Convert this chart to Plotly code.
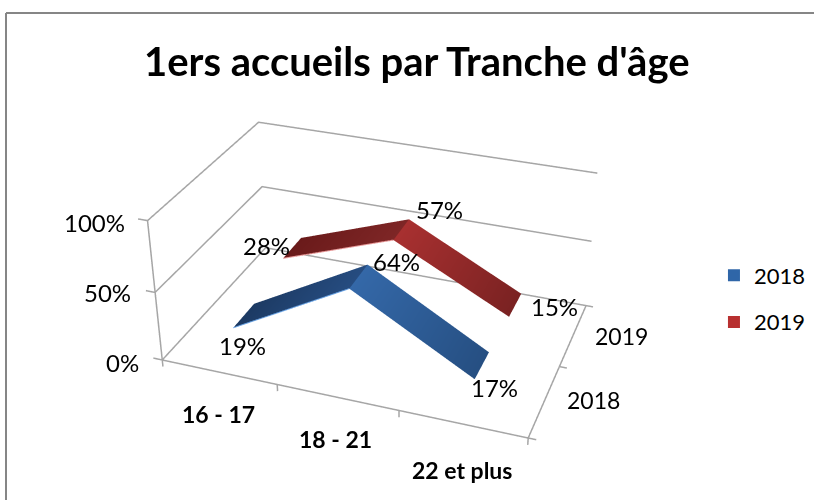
import plotly.graph_objects as go

categories = ["16 - 17", "18 - 21", "22 et plus"]
series_names = ["2018", "2019"]
values_2018 = [0.19, 0.64, 0.17]
values_2019 = [0.28, 0.57, 0.15]
z_ticks = [0, 0.5, 1]
z_labels = ["0%", "50%", "100%"]

RX = [-0.2, 3.2]; RY = [-0.1, 2.1]; RZ = [-0.1, 1.1]

# Plotly's 3D field of view is fixed at 45 degrees, so the gentle perspective of the
# reference needs a tall scene; the page offset below centres it in the window.
H = 1068
OFF = H / 2 - 250
S = (2.2591, 1.4269, 1.0)
EYE = (2.0815, -5.5752, 3.4211)
CTR = (0.1148, 0.0858, 0.0737)
UP = (-0.1652, 0.4589, 0.873)
RIB_A, RIB_B = 0.295, 0.690   # ribbon depth inside each series slot

def py(p):
    return 1 - (p + OFF) / H

fig = go.Figure()

def lines(segs, name, color="#a6a6a6", width=3):
    xs, ys, zs = [], [], []
    for s in segs:
        for p in s:
            xs.append(p[0]); ys.append(p[1]); zs.append(p[2])
        xs.append(None); ys.append(None); zs.append(None)
    fig.add_trace(go.Scatter3d(x=xs, y=ys, z=zs, mode="lines", line=dict(color=color, width=width),
                               showlegend=False, hoverinfo="skip", name=name))

segs = []
for zv in z_ticks:
    segs.append([(0, 0, zv), (0, 2, zv), (3, 2, zv)])
    segs.append([(0, 0, zv), (-0.08, 0, zv)])
segs.append([(0, 0, 0), (0, 0, 1)])
segs.append([(0, 0, 0), (3, 0, 0), (3, 2, 0)])
for i in range(4):
    segs.append([(i, 0, 0), (i, 0, -0.05)])
for i in range(3):
    segs.append([(3, i, 0), (3.06, i, 0)])
lines(segs, "grid")

def ribbon(vals, yc, cols, edge, name):
    xs = [.5, 1.5, 1.5, 2.5]
    zs = [vals[0], vals[1], vals[1], vals[2]]
    X = xs + xs
    Y = [yc + RIB_A] * 4 + [yc + RIB_B] * 4
    Z = zs + zs
    fig.add_trace(go.Mesh3d(x=X, y=Y, z=Z, i=[0, 4, 2, 6], j=[1, 1, 3, 3], k=[4, 5, 6, 7], vertexcolor=cols + cols,
                            lighting=dict(ambient=1, diffuse=0, specular=0, fresnel=0, roughness=1),
                            flatshading=True, showlegend=False, hoverinfo="skip", name=name))
    lines([[(xs[0], yc + RIB_A, zs[0]), (xs[1], yc + RIB_A, zs[1])]], name + " edge", edge, 2)

ribbon(values_2018, 0, ["#1c3a63", "#264c80", "#3468a8", "#264f82"], "#6fa8e8", "2018")
ribbon(values_2019, 1, ["#6a1a1a", "#7e2626", "#a83030", "#7a2222"], "#e89a9a", "2019")
for n, c in zip(series_names, ["#2f66a8", "#b83030"]):
    fig.add_trace(go.Scatter3d(x=[None], y=[None], z=[None], mode="markers",
                               marker=dict(symbol="square", size=12, color=c), name=n, legendgroup=n))

anns = []
def an(x, y, z, text, s, size=24, bold=False):
    anns.append(dict(x=x, y=y, z=z, text=text, showarrow=False, xshift=s[0], yshift=s[1],
                     font=dict(family="Lato", size=size, color="#000000", weight=700 if bold else 400)))

for zv, l, s in zip(z_ticks, z_labels, [(-40, -3), (-48, 0), (-53, -2)]):
    an(0, 0, zv, l, s)
for i, (c, s) in enumerate(zip(categories, [(0, -42), (-2, -42), (-1, -46)])):
    an(i + .5, 0, 0, c, s, 23, True)
for i, (n, s) in enumerate(zip(series_names, [(49, 1), (48, -1)])):
    an(3, i + .5, 0, n, s, 23)
mid = (RIB_A + RIB_B) / 2
for i, (v, s) in enumerate(zip(values_2018, [(-1, -30), (38, 15), (13, -22)])):
    an(i + .5, mid, v, f"{round(v * 100)}%", s)
for i, (v, s) in enumerate(zip(values_2019, [(-26, 2), (38, 20), (39, -1)])):
    an(i + .5, 1 + mid, v, f"{round(v * 100)}%", s)

ax = dict(visible=False, showbackground=False)
fig.update_layout(
    width=814, height=H, margin=dict(l=0, r=0, t=0, b=0, autoexpand=False), paper_bgcolor="white",
    title=dict(text="<b>1ers accueils par Tranche d'âge</b>", x=0.512, y=py(62), xanchor="center", yanchor="middle",
               font=dict(family="Lato", size=40, color="black")),
    scene=dict(domain=dict(x=[0, 1], y=[0, 1]), aspectmode="manual",
               aspectratio=dict(x=S[0], y=S[1], z=S[2]),
               xaxis=dict(range=RX, **ax), yaxis=dict(range=RY, **ax), zaxis=dict(range=RZ, **ax),
               camera=dict(eye=dict(x=EYE[0], y=EYE[1], z=EYE[2]), center=dict(x=CTR[0], y=CTR[1], z=CTR[2]),
                           up=dict(x=UP[0], y=UP[1], z=UP[2]), projection=dict(type="perspective")),
               annotations=anns),
    legend=dict(x=0.8771, y=py(254.5), xanchor="left", yanchor="top", tracegroupgap=15,
                font=dict(family="Lato", size=22, color="black"), itemsizing="constant"),
    shapes=[dict(type="line", xref="paper", yref="paper", x0=6 / 814, x1=1, y0=py(13), y1=py(13),
                 line=dict(color="#868686", width=2)),
            dict(type="line", xref="paper", yref="paper", x0=6 / 814, x1=6 / 814, y0=0, y1=py(13),
                 line=dict(color="#868686", width=2))],
)
fig.write_html("out.html", config={"displayModeBar": False},
    post_script=("document.documentElement.style.overflow='hidden';document.body.style.overflow='hidden';"
                 f"document.body.style.margin='0';document.getElementById('{{plot_id}}').style.marginTop='{-OFF}px';"))
